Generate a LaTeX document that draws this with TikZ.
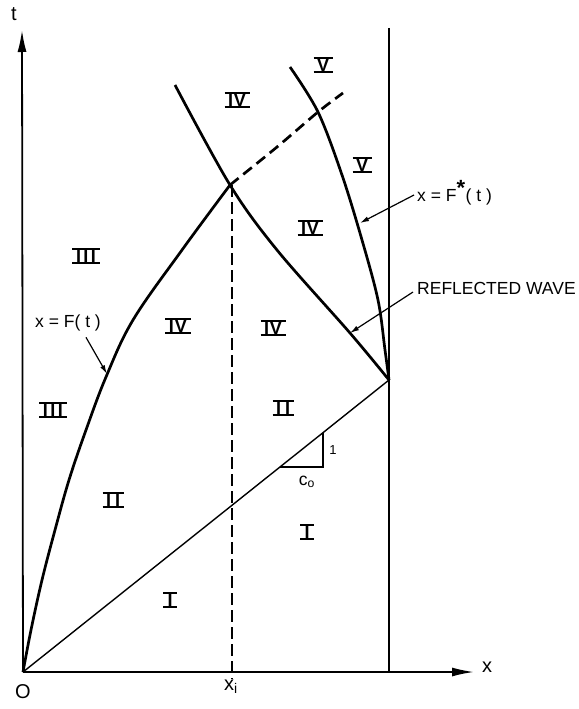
\documentclass[tikz,border=0pt]{standalone}
\usepackage{fontspec}
\setmainfont{Liberation Sans}
\usetikzlibrary{arrows.meta}

% roman zone numbers with bars above and below
\newcommand{\zone}[1]{\vbox{\hrule height 1.9pt\hbox{\kern3.5pt\bfseries #1\kern3.5pt}\hrule height 1.9pt}}

\begin{document}
\begin{tikzpicture}[x=1pt,y=-1pt,
  wave/.style={line width=2.7pt},
  thinline/.style={line width=1.4pt},
  leader/.style={line width=1.2pt,-{Latex[length=9pt,width=5pt]}},
  axis/.style={line width=1.8pt,-{Latex[length=22pt,width=9pt]}},
  zonelbl/.style={font=\fontsize{18}{18}\selectfont,inner sep=0pt},
  lbl/.style={font=\fontsize{17.5}{18}\selectfont,inner sep=1pt},
  axlbl/.style={font=\fontsize{20}{20}\selectfont,inner sep=0pt}]

\useasboundingbox (0,0) rectangle (578,709);

% points
\coordinate (O) at (23,672);
\coordinate (P) at (389,380);
\coordinate (Q) at (230,185);
\coordinate (tend) at (22,30);
\coordinate (xend) at (474,672);
\coordinate (walltop) at (389,28);
\coordinate (wallbot) at (389,672);
\coordinate (xitop) at (232,185);
\coordinate (xibot) at (232,679);

% axes
\draw[axis] (O) -- (tend);
\draw[axis] (O) -- (xend);
\node[axlbl] (tlbl) at (14,14) {t};
\node[axlbl] (xlbl) at (487,667) {x};
\node[axlbl] (olbl) at (23,692) {O};
\node[axlbl,anchor=north west] (xilbl) at (224,680) {x\textsubscript{i}};

% wall and x_i
\draw[thinline] (walltop) -- (wallbot);
\draw[line width=1.6pt,dash pattern=on 12pt off 5pt] (xitop) -- (xibot);

% characteristic from origin
\draw[thinline] (O) -- (P);
\coordinate (c1) at (280,467);
\coordinate (c2) at (323,467);
\coordinate (c3) at (323,433);
\draw[line width=1.2pt] (c1) -- (c2) -- (c3);
\node[lbl,font=\fontsize{13}{13}\selectfont] (one) at (333,450) {1};
\node[lbl] (co) at (307,482) {c\textsubscript{o}};

% curves
\draw[wave] plot[smooth,tension=0.6] coordinates {(23,672) (31,630) (42,580) (55,530) (69,480) (86,430) (106,377) (133,320) (182,250) (230,185)};
\draw[wave] plot[smooth,tension=0.55] coordinates {(175,85) (230,185) (277,250) (350,333) (389,380)};
\draw[wave] plot[smooth,tension=0.55] coordinates {(290,67) (318,112) (342,175) (362,240) (378,300) (385,350) (389,380)};
\draw[wave,dash pattern=on 11pt off 6pt] plot[smooth,tension=0.55] coordinates {(230,185) (277,147) (318,112) (343,93)};

% labels with leaders
\coordinate (tipF) at (107,374);
\coordinate (tipFs) at (360,223);
\coordinate (tipR) at (350,333);
\node[lbl] (lblF) at (68,323) {x = F( t )};
\node[lbl,anchor=west] (lblFs) at (416,193) {x = F\textsuperscript{\fontsize{22}{22}\selectfont\textbf{*}}( t )};
\node[lbl,anchor=west] (lblR) at (416,288) {REFLECTED WAVE};
\draw[leader] ([xshift=18pt,yshift=-5pt]lblF.south) -- (tipF);
\draw[leader] ([xshift=-2pt,yshift=-2pt]lblFs.west) -- (tipFs);
\draw[leader] ([xshift=-3pt,yshift=-4pt]lblR.west) -- (tipR);

% zones
\node[zonelbl] (V1) at (323,65) {\zone{V}};
\node[zonelbl] (IV1) at (237,100) {\zone{I\kern1pt V}};
\node[zonelbl] (V2) at (362,165) {\zone{V}};
\node[zonelbl] (IV2) at (310,228) {\zone{I\kern1pt V}};
\node[zonelbl] (III1) at (86,256) {\zone{I\kern2.5pt I\kern2.5pt I}};
\node[zonelbl] (IV3) at (178,326) {\zone{I\kern1pt V}};
\node[zonelbl] (IV4) at (273,328) {\zone{I\kern1pt V}};
\node[zonelbl] (III2) at (53,410) {\zone{I\kern2.5pt I\kern2.5pt I}};
\node[zonelbl] (II1) at (283,408) {\zone{I\kern4pt I}};
\node[zonelbl] (II2) at (113,500) {\zone{I\kern4pt I}};
\node[zonelbl] (I1) at (307,532) {\zone{\kern1pt I\kern1pt}};
\node[zonelbl] (I2) at (170,600) {\zone{\kern1pt I\kern1pt}};
\end{tikzpicture}
\end{document}
